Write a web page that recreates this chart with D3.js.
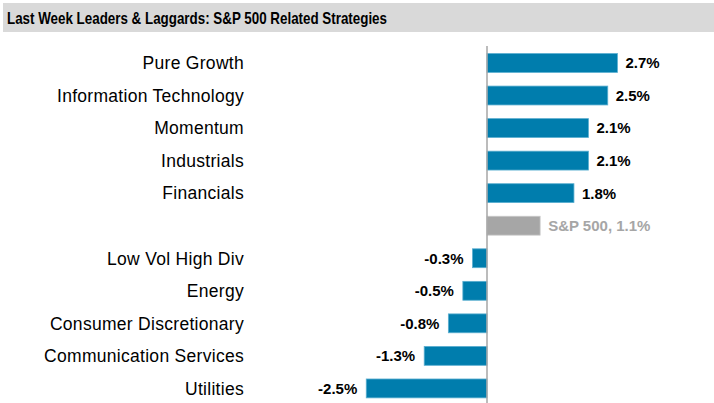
<!DOCTYPE html>
<html>
<head>
<meta charset="utf-8">
<script src="https://cdn.jsdelivr.net/npm/d3@7"></script>
<style>
  body { margin: 0; background: #fff; }
  svg { display: block; font-family: "Liberation Sans", Arial, sans-serif; }
</style>
</head>
<body>
<div id="chart"></div>
<script>
// data
var categories = ["Pure Growth", "Information Technology", "Momentum", "Industrials", "Financials",
    "S&P 500", "Low Vol High Div", "Energy", "Consumer Discretionary", "Communication Services", "Utilities"];
var returns = [2.7, 2.5, 2.1, 2.1, 1.8, 1.1, -0.3, -0.5, -0.8, -1.3, -2.5];
var benchmark = "S&P 500";

var width = 714, height = 403;

var svg = d3.select("#chart").append("svg")
    .attr("width", width)
    .attr("height", height);

// title bar
svg.append("rect")
    .attr("x", 3).attr("y", 3)
    .attr("width", width - 3).attr("height", 29)
    .attr("fill", "#d9d9d9");

svg.append("text")
    .attr("x", 7).attr("y", 24)
    .attr("font-size", 17)
    .attr("font-weight", "bold")
    .attr("fill", "#000")
    .attr("textLength", 380)
    .attr("lengthAdjust", "spacingAndGlyphs")
    .text("Last Week Leaders & Laggards: S&P 500 Related Strategies");

var x = d3.scaleLinear()
    .domain([-3, 3])
    .range([342.1, 631.9]);

var y = d3.scaleBand()
    .domain(categories)
    .range([46.7, 404.7])
    .paddingInner(0.42)
    .paddingOuter(0.21);

var rows = categories.map(function(c, i){
    return {name: c, value: returns[i]};
});

// bars
svg.selectAll("rect.bar")
    .data(rows)
    .enter()
    .append("rect")
    .attr("class", "bar")
    .attr("x", function(d){ return Math.min(x(0), x(d.value)); })
    .attr("y", function(d){ return y(d.name); })
    .attr("width", function(d){ return Math.abs(x(d.value) - x(0)); })
    .attr("height", y.bandwidth())
    .attr("fill", function(d){ return d.name == benchmark ? "#a6a6a6" : "#007dad"; })
    .attr("stroke", function(d){ return d.name == benchmark ? "#c8c8c8" : "#5aaed0"; })
    .attr("stroke-width", 0.8);

// zero line
svg.append("line")
    .attr("x1", x(0)).attr("x2", x(0))
    .attr("y1", 46).attr("y2", height)
    .attr("stroke", "#a6a6a6")
    .attr("stroke-width", 1.5);

// category labels (benchmark has its label next to the bar)
svg.selectAll("text.cat")
    .data(rows.filter(function(d){ return d.name != benchmark; }))
    .enter()
    .append("text")
    .attr("class", "cat")
    .attr("x", 244)
    .attr("y", function(d){ return y(d.name) + y.bandwidth() / 2; })
    .attr("dy", "0.36em")
    .attr("text-anchor", "end")
    .attr("font-size", 17.5)
    .attr("letter-spacing", 0.29)
    .attr("fill", "#000")
    .text(function(d){ return d.name; });

// value labels
svg.selectAll("text.val")
    .data(rows)
    .enter()
    .append("text")
    .attr("class", "val")
    .attr("x", function(d){ return d.value >= 0 ? x(d.value) + 8 : x(d.value) - 9; })
    .attr("y", function(d){ return y(d.name) + y.bandwidth() / 2; })
    .attr("dy", "0.36em")
    .attr("text-anchor", function(d){ return d.value >= 0 ? "start" : "end"; })
    .attr("font-size", 15)
    .attr("font-weight", "bold")
    .attr("fill", function(d){ return d.name == benchmark ? "#a6a6a6" : "#000"; })
    .text(function(d){
        var s = d.value.toFixed(1) + "%";
        return d.name == benchmark ? benchmark + ", " + s : s;
    });
</script>
</body>
</html>
